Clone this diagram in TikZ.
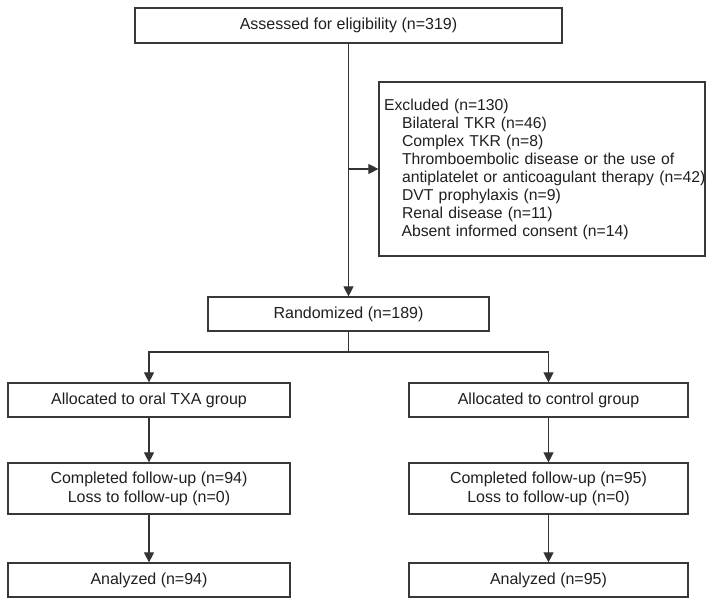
\documentclass[tikz,border=0pt]{standalone}
\usepackage{fontspec}
\setmainfont{Liberation Sans}
\usetikzlibrary{arrows.meta}
\begin{document}
\begin{tikzpicture}[x=1pt,y=-1pt,
  box/.style={draw=black!78, line width=1.2pt, inner sep=0pt, align=center,
    text=black!88, font=\fontsize{16}{19}\selectfont},
  conn/.style={draw=black!80, line width=1.1pt},
  arr/.style={conn, -{Triangle[length=10pt,width=10pt]}}]
\useasboundingbox (0,0) rectangle (715,607);
\node[box, text width=316pt, inner xsep=5pt, minimum height=174pt, align=left,
  font=\fontsize{15.75}{18}\selectfont] (excl) at (542,169) {Excluded (n=130)\\
\hspace*{18pt}Bilateral TKR (n=46)\\
\hspace*{18pt}Complex TKR (n=8)\\
\hspace*{18pt}Thromboembolic disease or the use of\\
\mbox{\hspace*{18pt}antiplatelet or anticoagulant therapy (n=42)}\\
\hspace*{18pt}DVT prophylaxis (n=9)\\
\hspace*{18pt}Renal disease (n=11)\\
\hspace*{17.5pt}Absent informed consent (n=14)};
\node[box, minimum width=427pt, minimum height=35pt] (top) at (348.5,25.5) {Assessed for eligibility (n=319)};
\node[box, minimum width=281pt, minimum height=34pt] (rand) at (348.5,314) {Randomized (n=189)};
\node[box, minimum width=282pt, minimum height=34pt] (allocL) at (149,400) {Allocated to oral TXA group};
\node[box, minimum width=279pt, minimum height=34pt] (allocR) at (548.5,400) {Allocated to control group};
\node[box, minimum width=282pt, minimum height=51pt] (compL) at (149,488.5) {Completed follow-up (n=94)\\Loss to follow-up (n=0)};
\node[box, minimum width=279pt, minimum height=51pt] (compR) at (548.5,488.5) {Completed follow-up (n=95)\\Loss to follow-up (n=0)};
\node[box, minimum width=282pt, minimum height=34pt] (anaL) at (149,580) {Analyzed (n=94)};
\node[box, minimum width=279pt, minimum height=34pt] (anaR) at (548.5,580) {Analyzed (n=95)};
\coordinate (split) at (348.5,352);
\draw[arr] (top.south) -- (rand.north);
\draw[arr] (top.south |- excl.west) -- (excl.west);
\draw[conn] (rand.south) -- (split);
\draw[arr] (split) -| (allocL.north);
\draw[arr] (split) -| (allocR.north);
\draw[arr] (allocL) -- (compL);
\draw[arr] (allocR) -- (compR);
\draw[arr] (compL) -- (anaL);
\draw[arr] (compR) -- (anaR);
\end{tikzpicture}
\end{document}
